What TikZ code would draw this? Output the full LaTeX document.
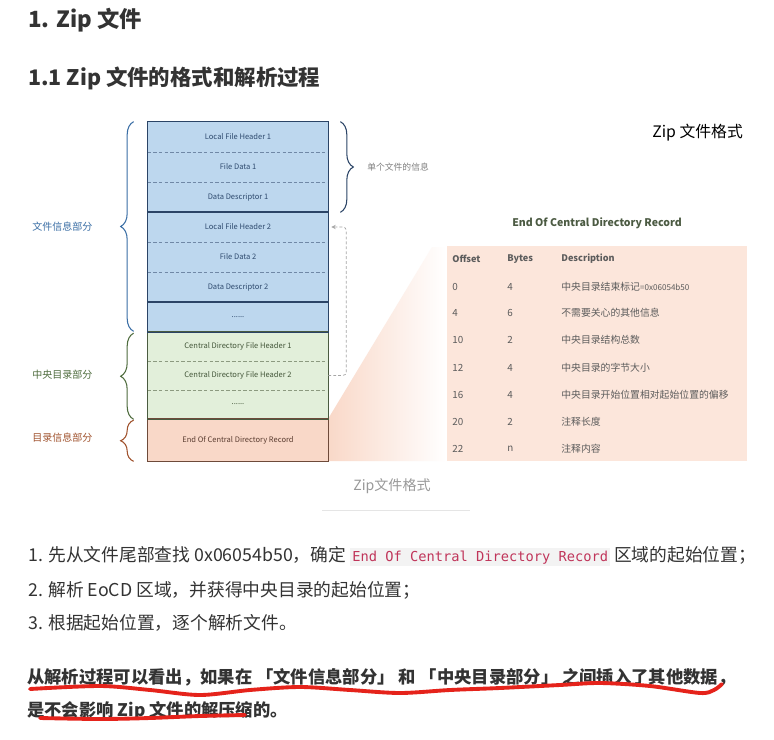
\documentclass[tikz,border=0pt]{standalone}
\usepackage{fontspec}
\setmainfont{Noto Sans CJK SC}
\setmonofont{DejaVu Sans Mono}
\usepackage{xcolor}
\usepackage{tikz}
\usetikzlibrary{decorations.pathreplacing,arrows.meta}
\definecolor{BlueFill}{HTML}{BDD7EE}
\definecolor{BlueLine}{HTML}{2B4466}
\definecolor{BlueDash}{HTML}{7088A6}
\definecolor{BlueText}{HTML}{2E4A6E}
\definecolor{GreenFill}{HTML}{E2EFDA}
\definecolor{GreenLine}{HTML}{4A5B40}
\definecolor{GreenDash}{HTML}{8C9A80}
\definecolor{GreenText}{HTML}{44573A}
\definecolor{EocdFill}{HTML}{F9D8C8}
\definecolor{EocdLine}{HTML}{6E4A3A}
\definecolor{EocdText}{HTML}{5A3C30}
\definecolor{TabFill}{HTML}{FCE6DB}
\definecolor{TabText}{HTML}{5C5C5C}
\definecolor{TabTitle}{HTML}{4B5A42}
\definecolor{LabBlue}{HTML}{3A6EA5}
\definecolor{LabGreen}{HTML}{4D6B3C}
\definecolor{LabBrown}{HTML}{A0522D}
\definecolor{BodyText}{HTML}{333333}
\definecolor{CodeBg}{HTML}{F3F3F3}
\definecolor{CodePink}{HTML}{C0355A}
\definecolor{Scribble}{HTML}{E5231B}
\newcommand{\fsz}[1]{\fontsize{#1}{#1}\selectfont}

\tikzset{
  cell/.style={minimum width=3.6cm, inner sep=0pt, text centered, font=\fsz{4.3}},
  bluecell/.style={cell, minimum height=0.6cm, fill=BlueFill, text=BlueText},
  greencell/.style={cell, minimum height=0.58cm, fill=GreenFill, text=GreenText},
  sep/.style={line width=0.3pt, dash pattern=on 2pt off 1.2pt},
  brace/.style={decorate, decoration={brace, amplitude=0.26cm}, line width=0.6pt},
  partlab/.style={anchor=west, inner sep=0pt, font=\fsz{5.7}},
  tab/.style={anchor=west, inner sep=0pt, text=TabText, font=\fsz{5.6}},
  tabhead/.style={tab, font=\bfseries\fsz{5.2}},
  body/.style={anchor=west, inner sep=0pt, text=BodyText, font=\fsz{10.1}},
}

\begin{document}
\begin{tikzpicture}[x=0.02cm, y=-0.02cm]%
\useasboundingbox (0,0) rectangle (774,740);%
\fill[white] (0,0) rectangle (774,740);%
% headings
\node[anchor=west, inner sep=0pt, text=BodyText, font=\bfseries\fsz{12.7}] (h1) at (28,20) {1. Zip 文件};%
\node[anchor=west, inner sep=0pt, text=BodyText, font=\bfseries\fsz{12.2}] (h2) at (28,78) {1.1 Zip 文件的格式和解析过程};%
% fan from the record to the table
\shade[left color=EocdFill, right color=white] (328,419) -- (432,247) -- (446,247) -- (446,461) -- (328,461) -- cycle;%
% file stack
\node[bluecell] (lfh1) at (238,137) {Local File Header 1};%
\node[bluecell] (fd1) at (238,167) {File Data 1};%
\node[bluecell] (dd1) at (238,197) {Data Descriptor 1};%
\node[bluecell] (lfh2) at (238,227) {Local File Header 2};%
\node[bluecell] (fd2) at (238,257) {File Data 2};%
\node[bluecell] (dd2) at (238,287) {Data Descriptor 2};%
\node[bluecell] (more1) at (238,317) {......};%
\node[greencell] (cdfh1) at (238,346.5) {Central Directory File Header 1};%
\node[greencell] (cdfh2) at (238,375.5) {Central Directory File Header 2};%
\node[greencell] (more2) at (238,404.5) {......};%
\node[cell, minimum height=0.84cm, fill=EocdFill, text=EocdText] (eocd) at (238,440) {End Of Central Directory Record};%
\draw[sep, BlueDash] (lfh1.south west) -- (lfh1.south east);%
\draw[sep, BlueDash] (fd1.south west) -- (fd1.south east);%
\draw[sep, BlueDash] (lfh2.south west) -- (lfh2.south east);%
\draw[sep, BlueDash] (fd2.south west) -- (fd2.south east);%
\draw[sep, GreenDash] (cdfh1.south west) -- (cdfh1.south east);%
\draw[sep, GreenDash] (cdfh2.south west) -- (cdfh2.south east);%
\draw[EocdLine, line width=0.8pt] (eocd.north west) rectangle (eocd.south east);%
\draw[GreenLine, line width=0.8pt] (cdfh1.north west) rectangle (more2.south east);%
\draw[BlueLine, line width=0.8pt] (lfh1.north west) rectangle (dd1.south east);%
\draw[BlueLine, line width=0.8pt] (lfh2.north west) rectangle (dd2.south east);%
\draw[BlueLine, line width=0.8pt] (more1.north west) rectangle (more1.south east);%
% braces
\draw[brace, LabBlue] ([xshift=-0.28cm, yshift=0.02cm]more1.south west) -- ([xshift=-0.28cm]lfh1.north west);%
\draw[brace, LabGreen] ([xshift=-0.28cm]more2.south west) -- ([xshift=-0.28cm, yshift=-0.03cm]cdfh1.north west);%
\draw[brace, LabBrown] ([xshift=-0.28cm]eocd.south west) -- ([xshift=-0.28cm, yshift=-0.03cm]eocd.north west);%
\draw[brace, BlueLine] ([xshift=0.24cm]lfh1.north east) -- ([xshift=0.24cm]dd1.south east);%
\node[partlab, text=LabBlue] (filepart) at (32,227) {文件信息部分};%
\node[partlab, text=LabGreen] (cdpart) at (32,375) {中央目录部分};%
\node[partlab, text=LabBrown] (eocdpart) at (32,438) {目录信息部分};%
\node[anchor=west, inner sep=0pt, text=gray, font=\fsz{5}] (onefile) at (367,167) {单个文件的信息};%
% back reference from the directory entry to its local header
\draw[gray!70, line width=0.4pt, dash pattern=on 1.6pt off 1.2pt, rounded corners=2pt, -{Stealth[length=2.5pt, width=2.5pt]}] (cdfh2.east) -| ([xshift=0.36cm]lfh2.east) -- ([xshift=0.06cm]lfh2.east);%
% record table
\node[anchor=west, inner sep=0pt, text=black, font=\fsz{9}] (fmttitle) at (652,133) {Zip 文件格式};%
\node[inner sep=0pt, text=TabTitle, font=\bfseries\fsz{6}] (tabtitle) at (597,223) {End Of Central Directory Record};%
\node[anchor=north west, fill=TabFill, minimum width=6cm, minimum height=4.3cm, inner sep=0pt] (eocdtable) at (447,246) {};%
\node[tabhead] (offhead) at (452,259) {Offset};%
\node[tabhead] (bytehead) at (507,259) {Bytes};%
\node[tabhead] (deschead) at (561,259) {Description};%
\node[tab] (off1) at (452,287) {0};%
\node[tab] (byte1) at (507,287) {4};%
\node[tab] (desc1) at (561,287) {中央目录结束标记{\fsz{4.6}=0x06054b50}};%
\node[tab] (off2) at (452,313) {4};%
\node[tab] (byte2) at (507,313) {6};%
\node[tab] (desc2) at (561,313) {不需要关心的其他信息};%
\node[tab] (off3) at (452,340) {10};%
\node[tab] (byte3) at (507,340) {2};%
\node[tab] (desc3) at (561,340) {中央目录结构总数};%
\node[tab] (off4) at (452,368) {12};%
\node[tab] (byte4) at (507,368) {4};%
\node[tab] (desc4) at (561,368) {中央目录的字节大小};%
\node[tab] (off5) at (452,395) {16};%
\node[tab] (byte5) at (507,395) {4};%
\node[tab] (desc5) at (561,395) {中央目录开始位置相对起始位置的偏移};%
\node[tab] (off6) at (452,422) {20};%
\node[tab] (byte6) at (507,422) {2};%
\node[tab] (desc6) at (561,422) {注释长度};%
\node[tab] (off7) at (452,449) {22};%
\node[tab] (byte7) at (507,449) {n};%
\node[tab] (desc7) at (561,449) {注释内容};%
% caption
\node[inner sep=0pt, text=gray!80, font=\fsz{8}] (caption) at (392,486) {Zip文件格式};%
\draw[gray!20, line width=0.5pt] (322,510) -- (470,510);%
% steps
\node[body] (step1) at (28,556) {1. 先从文件尾部查找 0x06054b50，确定 {\setlength{\fboxsep}{1.2pt}\colorbox{CodeBg}{\ttfamily\fsz{7.8}\color{CodePink}End Of Central Directory Record}} 区域的起始位置；};%
\node[body] (step2) at (28,590) {2. 解析 EoCD 区域，并获得中央目录的起始位置；};%
\node[body] (step3) at (28,623) {3. 根据起始位置，逐个解析文件。};%
% conclusion
\node[body, font=\bfseries\fsz{9.85}] (note1) at (27,677) {从解析过程可以看出，如果在 「文件信息部分」 和 「中央目录部分」 之间插入了其他数据，};%
\node[body, font=\bfseries\fsz{9.85}] (note2) at (27,711) {是不会影响 Zip 文件的解压缩的。};%
\draw[Scribble, line width=2.2pt, line cap=round, line join=round] plot[smooth] coordinates {(30,689) (100,686) (150,690) (200,695) (250,690) (300,687) (350,690) (400,693) (450,690) (500,688) (560,685) (600,683) (650,686) (700,693) (714,690) (722,684)};%
\draw[Scribble, line width=2.2pt, line cap=round] plot[smooth] coordinates {(40,718) (100,719) (150,718) (200,716) (245,715)};%
\end{tikzpicture}
\end{document}
